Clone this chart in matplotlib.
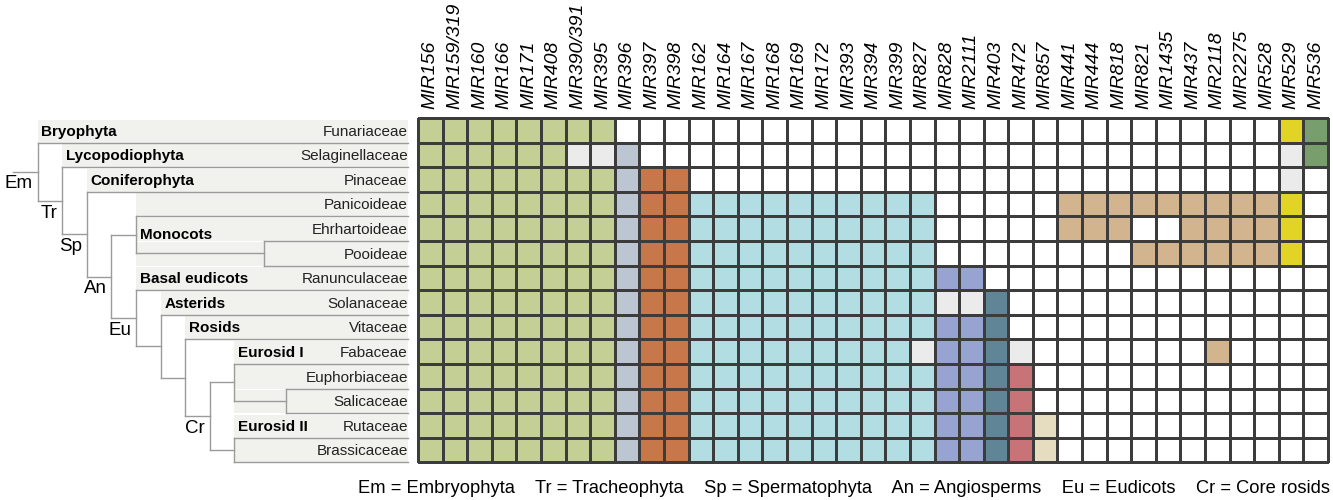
import numpy as np
import matplotlib.pyplot as plt
from matplotlib.colors import ListedColormap
from matplotlib.patches import Rectangle

plt.rcParams["font.family"] = ["Liberation Sans", "DejaVu Sans"]

# --- data ------------------------------------------------------------------
mirnas = ["MIR156", "MIR159/319", "MIR160", "MIR166", "MIR171", "MIR408", "MIR390/391", "MIR395",
          "MIR396", "MIR397", "MIR398",
          "MIR162", "MIR164", "MIR167", "MIR168", "MIR169", "MIR172", "MIR393", "MIR394", "MIR399", "MIR827",
          "MIR828", "MIR2111", "MIR403", "MIR472", "MIR857",
          "MIR441", "MIR444", "MIR818", "MIR821", "MIR1435", "MIR437", "MIR2118", "MIR2275", "MIR528",
          "MIR529", "MIR536"]
group_sizes = [8, 1, 2, 10, 2, 1, 1, 1, 9, 1, 1]   # columns per conservation group

families = ["Funariaceae", "Selaginellaceae", "Pinaceae", "Panicoideae", "Ehrhartoideae", "Pooideae",
            "Ranunculaceae", "Solanaceae", "Vitaceae", "Fabaceae", "Euphorbiaceae", "Salicaceae",
            "Rutaceae", "Brassicaceae"]

# 1 = present, 2 = uncertain (grey), 0 = absent ; spaces only separate the groups
presence = [
    "11111111 0 00 0000000000 00 0 0 0 000000000 1 1",
    "11111122 1 00 0000000000 00 0 0 0 000000000 2 1",
    "11111111 1 11 0000000000 00 0 0 0 000000000 2 0",
    "11111111 1 11 1111111111 00 0 0 0 111111111 1 0",
    "11111111 1 11 1111111111 00 0 0 0 111001111 1 0",
    "11111111 1 11 1111111111 00 0 0 0 000111111 1 0",
    "11111111 1 11 1111111111 11 0 0 0 000000000 0 0",
    "11111111 1 11 1111111111 22 1 0 0 000000000 0 0",
    "11111111 1 11 1111111111 11 1 0 0 000000000 0 0",
    "11111111 1 11 1111111112 11 1 2 0 000000100 0 0",
    "11111111 1 11 1111111111 11 1 1 0 000000000 0 0",
    "11111111 1 11 1111111111 11 1 1 0 000000000 0 0",
    "11111111 1 11 1111111111 11 1 1 1 000000000 0 0",
    "11111111 1 11 1111111111 11 1 1 1 000000000 0 0",
]

group_colors = ["#c3cf94", "#bcc6d2", "#c8774b", "#b1dde3", "#97a3d0", "#5f8597",
                "#c77378", "#e6dcbf", "#d2b58f", "#e2d327", "#799e6e"]

# phylogeny: (node, children)
tree = ("Em", ["Funariaceae",
        ("Tr", ["Selaginellaceae",
         ("Sp", ["Pinaceae",
          ("An", [("Monocots", ["Panicoideae", ("n_poo", ["Ehrhartoideae", "Pooideae"])]),
                  ("Eu", ["Ranunculaceae",
                   ("n_ast", ["Solanaceae",
                    ("n_ros", ["Vitaceae",
                     ("Cr", [("EurosidI", ["Fabaceae", ("n_sal", ["Euphorbiaceae", "Salicaceae"])]),
                             ("EurosidII", ["Rutaceae", "Brassicaceae"])])])])])])])])])
clade_labels = ["Em", "Tr", "Sp", "An", "Eu", "Cr"]
groups = [("Bryophyta", ["Funariaceae"], "Em"),
          ("Lycopodiophyta", ["Selaginellaceae"], "Tr"),
          ("Coniferophyta", ["Pinaceae"], "Sp"),
          ("Monocots", ["Panicoideae", "Ehrhartoideae", "Pooideae"], "Monocots"),
          ("Basal eudicots", ["Ranunculaceae"], "Eu"),
          ("Asterids", ["Solanaceae"], "n_ast"),
          ("Rosids", ["Vitaceae"], "n_ros"),
          ("Eurosid I", ["Fabaceae", "Euphorbiaceae", "Salicaceae"], "EurosidI"),
          ("Eurosid II", ["Rutaceae", "Brassicaceae"], "EurosidII")]
legend_text = "Em = Embryophyta    Tr = Tracheophyta    Sp = Spermatophyta    An = Angiosperms    Eu = Eudicots    Cr = Core rosids"

# --- layout (in cell units, grid occupies x 0..37, y 0..14) ---------------
depth = {"Em": 1, "Tr": 2, "Sp": 3, "An": 4, "Monocots": 5, "Eu": 5, "n_ast": 6, "n_ros": 7,
         "Cr": 8, "EurosidI": 9, "EurosidII": 9, "n_poo": 10.2, "n_sal": 11.1}
x0 = -16.46          # tree root stem
leaf_end = -0.41     # right end of leaf lines / names
line_col = "#9b9b9b"

fig = plt.figure(figsize=(13.33, 5), dpi=100)
ax = fig.add_axes([0, 0, 1, 1])
ax.set_xlim(-16.99, 37.20)
ax.set_ylim(15.53, -4.80)
ax.axis("off")

# heat grid
col_group = np.repeat(np.arange(len(group_sizes)), group_sizes)
codes = np.zeros((len(families), len(mirnas)), dtype=int)
for i, row in enumerate(presence):
    vals = [int(c) for c in row.replace(" ", "")]
    for j, v in enumerate(vals):
        codes[i, j] = 0 if v == 0 else (1 if v == 2 else col_group[j] + 2)
cmap = ListedColormap(["white", "#ebebeb"] + group_colors)
ax.pcolormesh(np.arange(len(mirnas) + 1), np.arange(len(families) + 1), codes,
              cmap=cmap, vmin=-0.5, vmax=len(group_colors) + 1.5,
              edgecolors="#3c3c3c", linewidth=1.0)

for j, m in enumerate(mirnas):
    ax.text(j + 0.5, -0.36, m, rotation=90, ha="center", va="bottom",
            fontsize=14, style="italic")

# tree
row_of = {f: i for i, f in enumerate(families)}


def node_y(node):
    if isinstance(node, str):
        return row_of[node] + 1
    ys = [node_y(c) for c in node[1]]
    return (ys[0] + ys[-1]) / 2


def node_x(node):
    return leaf_end if isinstance(node, str) else x0 + depth[node[0]]


def draw(node):
    name, children = node
    x, y = node_x(node), node_y(node)
    cys = [node_y(c) for c in children]
    ax.plot([x, x], [min(cys), max(cys)], color=line_col, lw=1.0, zorder=3)
    for c, cy in zip(children, cys):
        ax.plot([x, node_x(c)], [cy, cy], color=line_col, lw=1.0, zorder=3)
        if not isinstance(c, str):
            draw(c)
    if name in clade_labels:
        ax.text(x - 0.2, y + 0.5, name, ha="right", va="center", fontsize=13.5)


draw(tree)
ax.plot([x0, node_x(tree)], [node_y(tree)] * 2, color=line_col, lw=1.0, zorder=3)


def find(node, name):
    if isinstance(node, str):
        return None
    if node[0] == name:
        return node
    for c in node[1]:
        r = find(c, name)
        if r is not None:
            return r
    return None


for label, members, start in groups:
    sn = find(tree, start)
    sx = node_x(sn)
    for f in members:
        i = row_of[f]
        ax.add_patch(Rectangle((sx, i + 0.06), leaf_end - sx, 0.94,
                               facecolor="#f1f1ed", edgecolor="none", zorder=1))
    ly = node_y(sn) if start == "Monocots" else row_of[members[0]] + 0.55
    ax.text(sx + 0.15, ly, label, ha="left", va="center", fontsize=11, fontweight="bold", zorder=4)

for f in families:
    ax.text(leaf_end, row_of[f] + 0.55, f, ha="right", va="center", fontsize=11, color="#222222", zorder=4)

ax.text(37.07, 15.05, legend_text, ha="right", va="center", fontsize=13.2)

fig.savefig("out.png", dpi=100)
